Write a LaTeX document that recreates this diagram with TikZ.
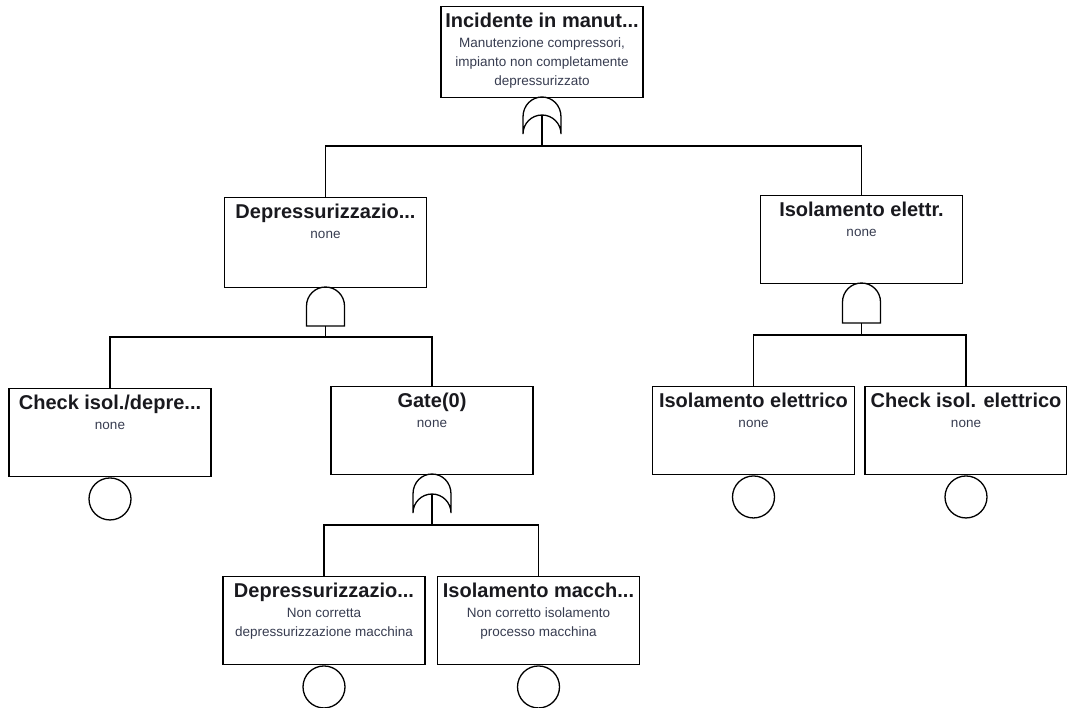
\documentclass[tikz,border=0pt]{standalone}
\usepackage{fontspec}
\setmainfont{Liberation Sans}
\definecolor{subcol}{RGB}{55,60,80}
\definecolor{ttlcol}{RGB}{25,25,30}
\newcommand\ftOrGate[4]{%
  \draw[gateline] (#2-19,#4) -- (#2-19,#3+20)
    .. controls (#2-19,#3+8) and (#2-10,#3) .. (#2,#3)
    .. controls (#2+10,#3) and (#2+19,#3+8) .. (#2+19,#3+20)
    -- (#2+19,#4)
    .. controls (#2+19,#4-10.5) and (#2+10.5,#4-19) .. (#2,#4-19)
    .. controls (#2-10.5,#4-19) and (#2-19,#4-10.5) .. (#2-19,#4) -- cycle;
  \coordinate (#1) at (#2,#4-19);}
\newcommand\ftAndGate[4]{%
  \draw[gateline] (#2-19,#4) -- (#2-19,#3+19)
    .. controls (#2-19,#3+8.5) and (#2-10.5,#3) .. (#2,#3)
    .. controls (#2+10.5,#3) and (#2+19,#3+8.5) .. (#2+19,#3+19)
    -- (#2+19,#4) -- cycle;
  \coordinate (#1) at (#2,#4);}
\begin{document}
\begin{tikzpicture}[x=1pt,y=-1pt,
  evbox/.style={draw, line width=1.3pt, minimum width=202pt, minimum height=88pt, inner sep=0pt, anchor=north},
  ttl/.style={font=\fontsize{20}{22}\selectfont\bfseries, text=ttlcol, anchor=base, inner sep=0pt},
  sub/.style={font=\fontsize{13.5}{19}\selectfont, text=subcol, align=center, anchor=base, inner sep=0pt},
  basicev/.style={draw, circle, line width=1.3pt, minimum size=42pt, inner sep=0pt, anchor=north},
  gateline/.style={line width=1.3pt},
  conn/.style={line width=1.3pt}]
\useasboundingbox (0,0) rectangle (1067,707);

% boxes
\node[evbox, minimum height=91pt] (top) at (542,6) {};
\node[evbox, minimum height=90pt] (dep) at (325.5,197) {};
\node[evbox] (iso) at (861.5,195) {};
\node[evbox] (chk) at (110,388) {};
\node[evbox] (g0) at (432,386) {};
\node[evbox] (iel) at (753.5,386) {};
\node[evbox] (cie) at (966,386) {};
\node[evbox] (depm) at (324,576) {};
\node[evbox] (isom) at (538.5,576) {};

% titles
\node[ttl] (topT) at ([yshift=-21pt]top.north) {Incidente in manut...};
\node[ttl] (depT) at ([yshift=-21pt]dep.north) {Depressurizzazio...};
\node[ttl] (isoT) at ([yshift=-21pt]iso.north) {Isolamento elettr.};
\node[ttl] (chkT) at ([yshift=-21pt]chk.north) {Check isol./depre...};
\node[ttl] (g0T) at ([yshift=-21pt]g0.north) {Gate(0)};
\node[ttl] (ielT) at ([yshift=-21pt]iel.north) {Isolamento elettrico};
\node[ttl] (cieT) at ([yshift=-21pt]cie.north) {Check isol. elettrico};
\node[ttl] (depmT) at ([yshift=-21pt]depm.north) {Depressurizzazio...};
\node[ttl] (isomT) at ([yshift=-21pt]isom.north) {Isolamento macch...};

% descriptions (anchor base = baseline of the last line)
\node[sub] (topS) at ([yshift=-79pt]top.north) {Manutenzione compressori,\\impianto non completamente\\depressurizzato};
\node[sub] (depS) at ([yshift=-41pt]dep.north) {none};
\node[sub] (isoS) at ([yshift=-41pt]iso.north) {none};
\node[sub] (chkS) at ([yshift=-41pt]chk.north) {none};
\node[sub] (g0S) at ([yshift=-41pt]g0.north) {none};
\node[sub] (ielS) at ([yshift=-41pt]iel.north) {none};
\node[sub] (cieS) at ([yshift=-41pt]cie.north) {none};
\node[sub] (depmS) at ([yshift=-60pt]depm.north) {Non corretta\\depressurizzazione macchina};
\node[sub] (isomS) at ([yshift=-60pt]isom.north) {Non corretto isolamento\\processo macchina};

% gates
\ftOrGate{orTop}{542}{97}{134}
\ftAndGate{andDep}{325.5}{287}{326}
\ftAndGate{andIso}{861.5}{283}{323}
\ftOrGate{orG0}{432}{474}{513}

% basic events
\node[basicev] (chkE) at (chk.south) {};
\node[basicev] (ielE) at (iel.south) {};
\node[basicev] (cieE) at (cie.south) {};
\node[basicev] (depmE) at (depm.south) {};
\node[basicev] (isomE) at (isom.south) {};

% connectors
\coordinate (bus1) at (542,146);
\coordinate (bus2) at (325.5,337);
\coordinate (bus3) at (861.5,335);
\coordinate (bus4) at (432,525);
\draw[conn] (orTop) -- (bus1);
\draw[conn] (dep.north) |- (bus1) -| (iso.north);
\draw[conn] (andDep) -- (bus2);
\draw[conn] (chk.north) |- (bus2) -| (g0.north);
\draw[conn] (andIso) -- (bus3);
\draw[conn] (iel.north) |- (bus3) -| (cie.north);
\draw[conn] (orG0) -- (bus4);
\draw[conn] (depm.north) |- (bus4) -| (isom.north);
\end{tikzpicture}
\end{document}
